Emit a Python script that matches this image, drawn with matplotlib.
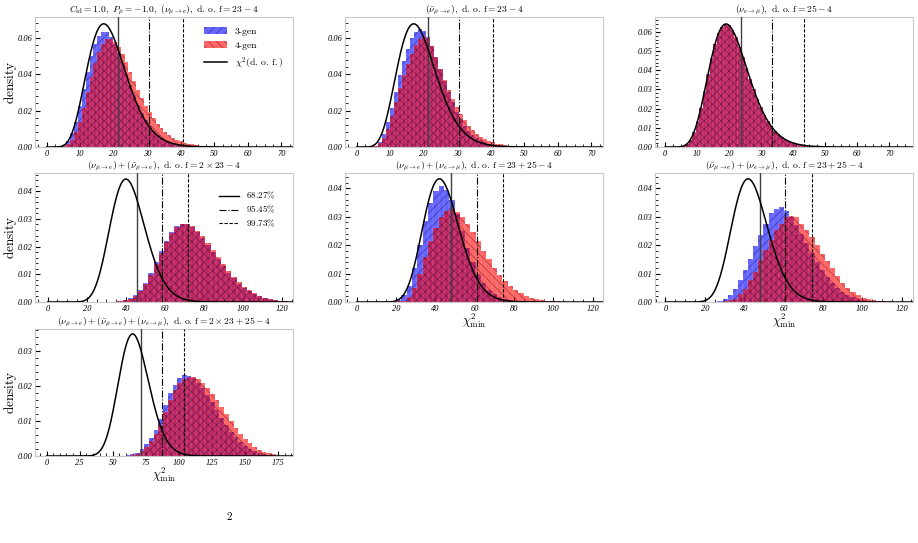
import numpy as np
import matplotlib
matplotlib.use('Agg')
import matplotlib.pyplot as plt
from matplotlib.ticker import MultipleLocator, AutoMinorLocator, FormatStrFormatter
from matplotlib.patches import Patch
from matplotlib.lines import Line2D
from math import lgamma, log

plt.rcParams['mathtext.fontset'] = 'cm'
plt.rcParams['hatch.linewidth'] = 0.5
plt.rcParams['font.family'] = ['Liberation Serif', 'DejaVu Serif']

# ---------------- data ----------------
# panel 1 : (nu_mu->e), dof 23-4
p1_dof = 19
p1_bin_start, p1_bin_width = 3.5, 1.16
p1_blue = [0.0003, 0.0012, 0.0035, 0.0078, 0.0140, 0.0225, 0.0320, 0.0415, 0.0500, 0.0565, 0.0610,
           0.0632, 0.0630, 0.0605, 0.0565, 0.0515, 0.0460, 0.0400, 0.0340, 0.0285, 0.0232, 0.0186,
           0.0147, 0.0114, 0.0088, 0.0067, 0.0050, 0.0037, 0.0027, 0.0020, 0.0014, 0.0010, 0.0007,
           0.0005, 0.0003, 0.0002, 0.00015, 0.0001, 0.00007, 0.00005, 0.00003, 0.00002, 0.00001, 0.00001]
p1_red = [0.0001, 0.0004, 0.0015, 0.0040, 0.0082, 0.0140, 0.0215, 0.0300, 0.0385, 0.0460, 0.0525,
          0.0568, 0.0592, 0.0595, 0.0580, 0.0552, 0.0512, 0.0465, 0.0415, 0.0365, 0.0315, 0.0270,
          0.0228, 0.0190, 0.0157, 0.0128, 0.0103, 0.0082, 0.0065, 0.0051, 0.0040, 0.0031, 0.0024,
          0.0018, 0.0014, 0.0010, 0.0008, 0.0006, 0.0004, 0.0003, 0.0002, 0.00015, 0.0001, 0.00007]
p1_levels = [21.4, 30.6, 40.7]
p1_xlim, p1_ylim = (-3.5, 73.5), (0, 0.0715)

# panel 2 : (nubar_mu->e), dof 23-4
p2_dof = 19
p2_bin_start, p2_bin_width = 4.0, 1.2
p2_blue = [0.0002, 0.0008, 0.0030, 0.0070, 0.0135, 0.0215, 0.0305, 0.0395, 0.0475, 0.0540, 0.0598,
           0.0635, 0.0650, 0.0640, 0.0605, 0.0555, 0.0495, 0.0430, 0.0365, 0.0300, 0.0245, 0.0195,
           0.0152, 0.0117, 0.0089, 0.0066, 0.0049, 0.0036, 0.0026, 0.0019, 0.0013, 0.0009, 0.0006,
           0.0004, 0.0003, 0.0002, 0.00012, 0.00008, 0.00005, 0.00003, 0.00002, 0.00001]
p2_red = [0.0001, 0.0005, 0.0020, 0.0050, 0.0100, 0.0170, 0.0250, 0.0325, 0.0395, 0.0455, 0.0510,
          0.0560, 0.0595, 0.0612, 0.0600, 0.0555, 0.0495, 0.0430, 0.0370, 0.0315, 0.0265, 0.0220,
          0.0180, 0.0146, 0.0117, 0.0093, 0.0073, 0.0057, 0.0044, 0.0034, 0.0026, 0.0019, 0.0014,
          0.0010, 0.0007, 0.0005, 0.0004, 0.0003, 0.0002, 0.00015, 0.0001, 0.00007]
p2_levels = [21.4, 30.6, 40.7]
p2_xlim, p2_ylim = (-3.5, 73.5), (0, 0.0715)

# panel 3 : (nu_e->mu), dof 25-4
p3_dof = 21
p3_bin_start, p3_bin_width = 4.0, 1.1
p3_blue = [0.0001, 0.0005, 0.0016, 0.0038, 0.0077, 0.0133, 0.0206, 0.0290, 0.0379, 0.0463, 0.0537,
           0.0593, 0.0628, 0.0642, 0.0635, 0.0610, 0.0571, 0.0522, 0.0467, 0.0410, 0.0354, 0.0300,
           0.0251, 0.0207, 0.0168, 0.0135, 0.0107, 0.0084, 0.0066, 0.0051, 0.0039, 0.0029, 0.0022,
           0.0017, 0.0012, 0.0009, 0.00067, 0.0005, 0.00036, 0.00026, 0.00019, 0.00014, 0.0001,
           0.00007, 0.00005, 0.00003]
p3_red = [0.0001, 0.0004, 0.0015, 0.0036, 0.0074, 0.0130, 0.0203, 0.0287, 0.0376, 0.0461, 0.0535,
          0.0592, 0.0628, 0.0642, 0.0636, 0.0611, 0.0572, 0.0523, 0.0468, 0.0411, 0.0355, 0.0301,
          0.0252, 0.0208, 0.0169, 0.0136, 0.0108, 0.0085, 0.0066, 0.0051, 0.0039, 0.0030, 0.0022,
          0.0017, 0.0012, 0.0009, 0.00068, 0.0005, 0.00037, 0.00027, 0.0002, 0.00014, 0.0001,
          0.00007, 0.00005, 0.00003]
p3_levels = [23.6, 33.3, 43.5]
p3_xlim, p3_ylim = (-3.2, 77.4), (0, 0.0678)

# panel 4 : (nu_mu->e)+(nubar_mu->e), dof 2x23-4
p4_dof = 42
p4_bin_start, p4_bin_width = 33.0, 2.65
p4_blue = [0.0001, 0.0003, 0.0007, 0.0014, 0.0027, 0.0045, 0.0070, 0.0105, 0.0145, 0.0185, 0.0222,
           0.0254, 0.0275, 0.0283, 0.0280, 0.0270, 0.0253, 0.0232, 0.0207, 0.0181, 0.0155, 0.0130,
           0.0106, 0.0085, 0.0066, 0.0051, 0.0038, 0.0028, 0.0020, 0.0014, 0.0010, 0.0007, 0.0004, 0.0003]
p4_red = [0.0001, 0.0002, 0.0006, 0.0012, 0.0023, 0.0040, 0.0064, 0.0097, 0.0137, 0.0178, 0.0216,
          0.0249, 0.0272, 0.0282, 0.0281, 0.0273, 0.0257, 0.0237, 0.0213, 0.0187, 0.0161, 0.0136,
          0.0112, 0.0090, 0.0071, 0.0055, 0.0042, 0.0031, 0.0022, 0.0016, 0.0011, 0.0008, 0.0005, 0.0003]
p4_levels = [45.7, 58.5, 71.9]
p4_xlim, p4_ylim = (-6.5, 125.5), (0, 0.0466)

# panel 5 : (nu_mu->e)+(nu_e->mu), dof 23+25-4
p5_dof = 44
p5_bin_start, p5_bin_width = 20.0, 2.7
p5_blue = [0.0006, 0.0024, 0.0058, 0.0120, 0.0200, 0.0285, 0.0350, 0.0392, 0.0408, 0.0395, 0.0360,
           0.0310, 0.0250, 0.0190, 0.0140, 0.0098, 0.0066, 0.0043, 0.0027, 0.0017, 0.0010, 0.0006,
           0.0003, 0.0002, 0.0001, 0.0001, 0.00005, 0.00003, 0.00002, 0.00001, 0.0, 0.0, 0.0, 0.0]
p5_red = [0.0002, 0.0005, 0.0018, 0.0050, 0.0100, 0.0160, 0.0215, 0.0262, 0.0300, 0.0320, 0.0326,
          0.0318, 0.0300, 0.0275, 0.0245, 0.0213, 0.0180, 0.0150, 0.0121, 0.0095, 0.0073, 0.0055,
          0.0041, 0.0030, 0.0021, 0.0015, 0.0010, 0.0007, 0.0005, 0.0003, 0.0002, 0.00015, 0.0001, 0.0001]
p5_levels = [47.9, 61.0, 74.6]
p5_xlim, p5_ylim = (-6.0, 125.2), (0, 0.0454)

# panel 6 : (nubar_mu->e)+(nu_e->mu), dof 23+25-4
p6_dof = 44
p6_bin_start, p6_bin_width = 26.4, 2.6
p6_blue = [0.0003, 0.0012, 0.0024, 0.0047, 0.0076, 0.0112, 0.0153, 0.0196, 0.0235, 0.0276, 0.0312,
           0.0326, 0.0333, 0.0322, 0.0300, 0.0272, 0.0240, 0.0206, 0.0172, 0.0140, 0.0112, 0.0087,
           0.0066, 0.0049, 0.0036, 0.0026, 0.0018, 0.0012, 0.0008, 0.0005, 0.0003, 0.0002, 0.0001,
           0.0001, 0.00005, 0.0]
p6_red = [0.0, 0.0003, 0.0006, 0.0012, 0.0027, 0.0047, 0.0076, 0.0106, 0.0147, 0.0182, 0.0218,
          0.0253, 0.0276, 0.0300, 0.0303, 0.0298, 0.0276, 0.0255, 0.0229, 0.0200, 0.0170, 0.0145,
          0.0118, 0.0091, 0.0067, 0.0051, 0.0035, 0.0024, 0.0015, 0.0011, 0.0007, 0.0005, 0.0003,
          0.0002, 0.0001, 0.0001]
p6_levels = [47.9, 61.0, 74.6]
p6_xlim, p6_ylim = (-5.3, 125.8), (0, 0.0454)

# panel 7 : (nu_mu->e)+(nubar_mu->e)+(nu_e->mu), dof 2x23+25-4
p7_dof = 67
p7_bin_start, p7_bin_width = 59.7, 3.55
p7_blue = [0.0002, 0.0005, 0.0010, 0.0020, 0.0035, 0.0052, 0.0074, 0.0105, 0.0145, 0.0180, 0.0204,
           0.0222, 0.0231, 0.0230, 0.0223, 0.0210, 0.0194, 0.0175, 0.0153, 0.0131, 0.0109, 0.0088,
           0.0069, 0.0053, 0.0039, 0.0028, 0.0019, 0.0013, 0.0008, 0.0005, 0.0003, 0.0002]
p7_red = [0.0001, 0.0003, 0.0007, 0.0014, 0.0027, 0.0043, 0.0063, 0.0090, 0.0127, 0.0160, 0.0188,
          0.0208, 0.0220, 0.0225, 0.0225, 0.0219, 0.0208, 0.0194, 0.0178, 0.0160, 0.0140, 0.0120,
          0.0100, 0.0081, 0.0064, 0.0049, 0.0036, 0.0026, 0.0018, 0.0012, 0.0008, 0.0005]
p7_levels = [71.6, 87.5, 103.5]
p7_xlim, p7_ylim = (-8.8, 186.3), (0, 0.0363)

titles = [
    r'$C_{\rm id}=1.0,\ P_\mu=-1.0,\ (\nu_{\mu\rightarrow e}),\ {\rm d.\,o.\,f}=23-4$',
    r'$(\bar{\nu}_{\mu\rightarrow e}),\ {\rm d.\,o.\,f}=23-4$',
    r'$(\nu_{e\rightarrow\mu}),\ {\rm d.\,o.\,f}=25-4$',
    r'$(\nu_{\mu\rightarrow e})+(\bar{\nu}_{\mu\rightarrow e}),\ {\rm d.\,o.\,f}=2\times23-4$',
    r'$(\nu_{\mu\rightarrow e})+(\nu_{e\rightarrow\mu}),\ {\rm d.\,o.\,f}=23+25-4$',
    r'$(\bar{\nu}_{\mu\rightarrow e})+(\nu_{e\rightarrow\mu}),\ {\rm d.\,o.\,f}=23+25-4$',
    r'$(\nu_{\mu\rightarrow e})+(\bar{\nu}_{\mu\rightarrow e})+(\nu_{e\rightarrow\mu}),\ {\rm d.\,o.\,f}=2\times23+25-4$',
]
legend_hist_labels = ['3-gen', '4-gen', r'$\chi^2(\mathrm{d.\,o.\,f.})$']
legend_level_labels = [r'$\mathrm{68.27\%}$', r'$\mathrm{95.45\%}$', r'$\mathrm{99.73\%}$']

x_major = [10, 10, 10, 20, 20, 20, 25]
y_major = [0.02, 0.02, 0.01, 0.01, 0.01, 0.01, 0.01]
x_minor_div = [4, 4, 4, 4, 4, 4, 5]

panels = [
    (p1_dof, p1_bin_start, p1_bin_width, p1_blue, p1_red, p1_levels, p1_xlim, p1_ylim),
    (p2_dof, p2_bin_start, p2_bin_width, p2_blue, p2_red, p2_levels, p2_xlim, p2_ylim),
    (p3_dof, p3_bin_start, p3_bin_width, p3_blue, p3_red, p3_levels, p3_xlim, p3_ylim),
    (p4_dof, p4_bin_start, p4_bin_width, p4_blue, p4_red, p4_levels, p4_xlim, p4_ylim),
    (p5_dof, p5_bin_start, p5_bin_width, p5_blue, p5_red, p5_levels, p5_xlim, p5_ylim),
    (p6_dof, p6_bin_start, p6_bin_width, p6_blue, p6_red, p6_levels, p6_xlim, p6_ylim),
    (p7_dof, p7_bin_start, p7_bin_width, p7_blue, p7_red, p7_levels, p7_xlim, p7_ylim),
]

# ---------------- figure ----------------
W, H = 918, 543
fig = plt.figure(figsize=(W / 100, H / 100), dpi=100)

col_left = [35, 345, 655]
row_top = [17, 173, 329]
row_h = [130, 129, 127]
ax_w = 258
grid_pos = [(0, 0), (0, 1), (0, 2), (1, 0), (1, 1), (1, 2), (2, 0)]

BLUE = (0.0, 0.0, 1.0, 0.6)
RED = (1.0, 0.0, 0.0, 0.6)
BLUE_HATCH = (0.05, 0.05, 0.3, 0.5)
RED_HATCH = (0.3, 0.0, 0.08, 0.5)


def chi2_pdf(x, k):
    h = k / 2.0
    return np.exp((h - 1) * np.log(x) - x / 2 - h * log(2) - lgamma(h))


def draw_hist(ax, start, width, heights, face, hatch, hatch_col):
    heights = np.asarray(heights)
    left = start + width * np.arange(len(heights))
    ax.bar(left, heights, width=width, align='edge', facecolor=face,
           edgecolor=(1, 1, 1, 0.18), linewidth=0.35, zorder=2)
    ax.bar(left, heights, width=width, align='edge', fill=False, hatch=hatch,
           edgecolor=hatch_col, linewidth=0, zorder=2.1)


axes = []
for i, (dof, bstart, bwidth, blue, red, levels, xlim, ylim) in enumerate(panels):
    r, c = grid_pos[i]
    left = col_left[c] / W
    bottom = 1 - (row_top[r] + row_h[r]) / H
    ax = fig.add_axes([left, bottom, ax_w / W, row_h[r] / H])
    axes.append(ax)

    draw_hist(ax, bstart, bwidth, blue, BLUE, '////', BLUE_HATCH)
    draw_hist(ax, bstart, bwidth, red, RED, '\\\\\\\\', RED_HATCH)

    xx = np.linspace(0.01, xlim[1], 600)
    ax.plot(xx, chi2_pdf(xx, dof), color='k', lw=1.1, zorder=4)

    ax.axvline(levels[0], color='0.25', lw=1.0, ls='-', zorder=3)
    ax.axvline(levels[1], color='k', lw=0.8, ls='-.', zorder=3)
    ax.axvline(levels[2], color='k', lw=0.8, ls='--', dashes=(3, 1.5), zorder=3)

    ax.set_xlim(*xlim)
    ax.set_ylim(*ylim)
    ax.xaxis.set_major_locator(MultipleLocator(x_major[i]))
    ax.xaxis.set_minor_locator(AutoMinorLocator(x_minor_div[i]))
    ax.yaxis.set_major_locator(MultipleLocator(y_major[i]))
    ax.yaxis.set_minor_locator(AutoMinorLocator(5))
    ax.yaxis.set_major_formatter(FormatStrFormatter('%.2f'))
    ax.xaxis.set_major_formatter(FormatStrFormatter('%d'))

    for s in ax.spines.values():
        s.set_color('#c8c8c8')
        s.set_linewidth(0.8)
    ax.tick_params(which='both', direction='in', colors='k', top=False, right=False,
                   labelsize=6, pad=2)
    ax.tick_params(which='major', length=3.5, width=0.8)
    ax.tick_params(which='minor', length=2, width=0.6)
    for lbl in ax.get_xticklabels() + ax.get_yticklabels():
        lbl.set_fontstyle('italic')

    ax.set_title(titles[i], fontsize=6.9, pad=1.5)
    if c == 0:
        ax.set_ylabel(r'$\mathrm{density}$', fontsize=9.5)
        ax.yaxis.set_label_coords(-0.062, 0.5)
    if i in (4, 5, 6):
        ax.set_xlabel(r'$\chi^2_{\rm min}$', fontsize=9, labelpad=-1)

# legends
h1 = [Patch(facecolor=BLUE, hatch='////', edgecolor=BLUE_HATCH, linewidth=0),
      Patch(facecolor=RED, hatch='\\\\\\\\', edgecolor=RED_HATCH, linewidth=0),
      Line2D([], [], color='k', lw=1.1)]
axes[0].legend(h1, legend_hist_labels, loc='upper right', frameon=False,
               prop={'family': 'cmr10', 'size': 7}, handlelength=2.4,
               borderaxespad=0.6, labelspacing=0.55)

h4 = [Line2D([], [], color='k', lw=1.0, ls='-'),
      Line2D([], [], color='k', lw=0.8, ls='-.'),
      Line2D([], [], color='k', lw=0.8, ls='--', dashes=(3, 1.5))]
axes[3].legend(h4, legend_level_labels, loc='upper right', frameon=False,
               bbox_to_anchor=(0.965, 0.93), fontsize=6.5, handlelength=2.2,
               labelspacing=0.3)

fig.text(229 / W, 1 - 516 / H, r'$2$', fontsize=8, ha='center', va='center')

fig.savefig('out.png', dpi=100)
